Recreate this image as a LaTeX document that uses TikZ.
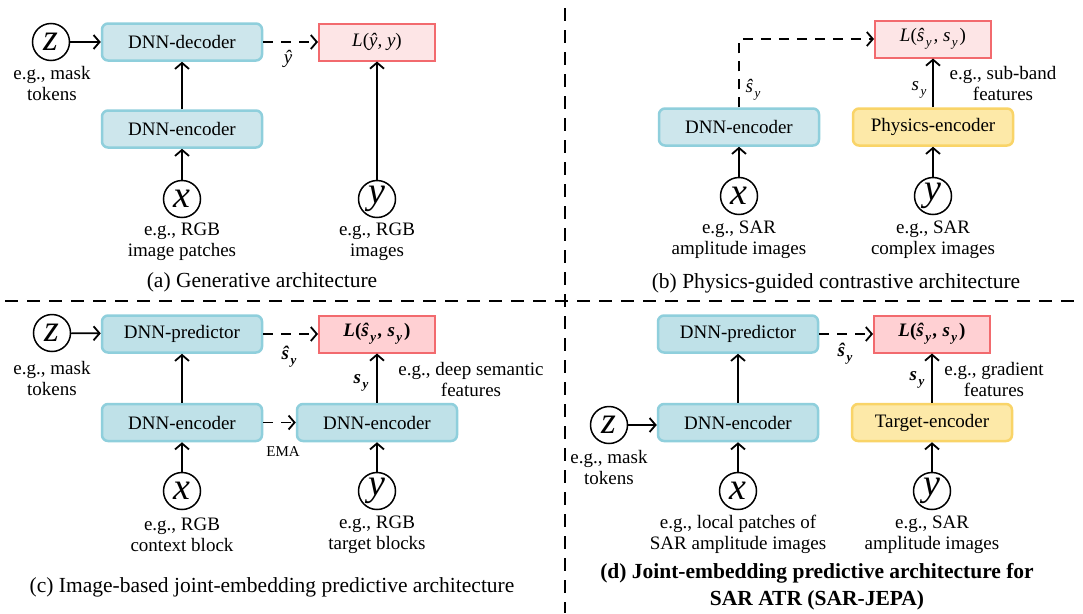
\documentclass[tikz,border=0pt]{standalone}
\usepackage{fontspec}
\setmainfont{Liberation Serif}
\usetikzlibrary{arrows.meta}
\definecolor{bluefill}{HTML}{CDE6EC}
\definecolor{bluefillb}{HTML}{BFE1E8}
\definecolor{bluebd}{HTML}{8FCFDC}
\definecolor{redfill}{HTML}{FDE5E6}
\definecolor{redfillb}{HTML}{FFD0D3}
\definecolor{redbd}{HTML}{F26A6E}
\definecolor{yelfill}{HTML}{FDE9A8}
\definecolor{yelbd}{HTML}{F9D468}
\newcommand\subs[1]{\kern1.5pt\raisebox{-0.55ex}{\fontsize{13}{13}\selectfont\itshape #1}\kern2pt}
\begin{document}
\begin{tikzpicture}[x=1pt,y=-1pt,
  bbox/.style={draw=bluebd, fill=bluefill, line width=2.5pt, rounded corners=6pt,
    minimum width=160pt, minimum height=37pt, inner sep=0pt, font=\fontsize{19}{21}\selectfont},
  bboxb/.style={bbox, fill=bluefillb},
  ybox/.style={bbox, draw=yelbd, fill=yelfill},
  lbox/.style={draw=redbd, fill=redfill, line width=2pt, minimum width=116pt,
    minimum height=37pt, inner sep=0pt, font=\fontsize{19}{21}\selectfont},
  lboxb/.style={lbox, fill=redfillb},
  var/.style={circle, draw, line width=1.5pt, minimum size=37pt, inner sep=0pt,
    font=\fontsize{38}{38}\selectfont\itshape},
  lbl/.style={align=center, inner sep=0pt, font=\fontsize{19}{21}\selectfont},
  capt/.style={align=center, inner sep=0pt, font=\fontsize{21.5}{27}\selectfont},
  mlbl/.style={inner sep=0pt, font=\fontsize{19}{21}\selectfont\itshape},
  arr/.style={-{Straight Barb[length=6pt,width=14pt]}, line width=1.8pt},
  darr/.style={arr, dash pattern=on 10pt off 8pt},
  sep/.style={line width=1.6pt, dash pattern=on 13pt off 9pt}]
\useasboundingbox (0,0) rectangle (1083,613);
\fill[white] (0,0) rectangle (1083,613);

% separators
\coordinate (h1) at (5,301);
\coordinate (h2) at (1080,301);
\coordinate (v1) at (565,8);
\coordinate (v2) at (565,613);
\draw[sep] (h1) -- (h2);
\draw[sep] (v1) -- (v2);

% ---------- (a) ----------
\node[bbox] (deca) at (182,42) {DNN-decoder};
\node[bbox] (enca) at (182,129) {DNN-encoder};
\node[lbox] (La) at (377,42) {{\itshape L}(\itshape ŷ, y\upshape)};
\node[var] (za) at (51,42) {z};
\node[var] (xa) at (182,199) {x};
\node[var] (ya) at (377,199) {y};
\node[lbl] (zta) at (52,83.5) {e.g., mask\\tokens};
\node[lbl] (xta) at (182,241.5) {e.g., RGB\\image patches};
\node[lbl] (yta) at (377,241.5) {e.g., RGB\\images};
\node[mlbl] (yha) at (288,59) {ŷ};
\node[capt] (capa) at (262,282) {(a) Generative architecture};
\draw[arr] (za) -- (deca);
\draw[arr] (enca) -- (deca);
\draw[arr] (xa) -- (enca);
\draw[arr] (ya) -- (La);
\draw[darr] (deca) -- (La);

% ---------- (b) ----------
\node[bbox] (encb) at (739,127) {DNN-encoder};
\node[ybox] (phyb) at (933,127) {Physics-encoder};
\node[lbox] (Lb) at (933,39) {{\itshape L}(\itshape ŝ\subs{y}, s\subs{y}\upshape)};
\node[var] (xb) at (739,196) {x};
\node[var] (yb) at (933,196) {y};
\node[lbl] (xtb) at (739,239.5) {e.g., SAR\\amplitude images};
\node[lbl] (ytb) at (933,239.5) {e.g., SAR\\complex images};
\node[lbl] (ftb) at (1003,83.5) {e.g., sub-band\\features};
\node[mlbl] (shb) at (754,90) {ŝ\subs{y}};
\node[mlbl] (sb) at (920,90) {s\subs{y}};
\node[capt] (capb) at (836,283) {(b) Physics-guided contrastive architecture};
\draw[arr] (xb) -- (encb);
\draw[arr] (yb) -- (phyb);
\draw[arr] (phyb) -- (Lb);
\draw[darr] (encb.north) |- (Lb.west);

% ---------- (c) ----------
\node[bboxb] (predc) at (182,334) {DNN-predictor};
\node[bboxb] (encc) at (182,422.5) {DNN-encoder};
\node[bboxb] (tencc) at (377,422.5) {DNN-encoder};
\node[lboxb] (Lc) at (377,334) {\bfseries{\itshape L}(\itshape ŝ\subs{\bfseries y}, s\subs{\bfseries y}\upshape)};
\node[var] (zc) at (52,333) {z};
\node[var] (xc) at (182,491) {x};
\node[var] (yc) at (377,491) {y};
\node[lbl] (ztc) at (52,378) {e.g., mask\\tokens};
\node[lbl] (xtc) at (182,534.5) {e.g., RGB\\context block};
\node[lbl] (ytc) at (377,534.5) {e.g., RGB\\target blocks};
\node[lbl] (ftc) at (471,379) {e.g., deep semantic\\features};
\node[mlbl,font=\fontsize{19}{21}\selectfont\bfseries\itshape] (shc) at (290,357) {ŝ\subs{\bfseries y}};
\node[mlbl,font=\fontsize{19}{21}\selectfont\bfseries\itshape] (sc) at (362,383) {s\subs{\bfseries y}};
\node[inner sep=0pt, font=\fontsize{15}{15}\selectfont] (ema) at (283,452) {EMA};
\node[capt] (capc) at (272,587) {(c) Image-based joint-embedding predictive architecture};
\draw[arr] (zc) -- (predc);
\draw[arr] (encc) -- (predc);
\draw[arr] (xc) -- (encc);
\draw[arr] (yc) -- (tencc);
\draw[arr] (tencc) -- (Lc);
\draw[darr] (predc) -- (Lc);
\draw[darr] (encc) -- (tencc);

% ---------- (d) ----------
\node[bboxb] (predd) at (738,334) {DNN-predictor};
\node[bboxb] (encd) at (738,422.5) {DNN-encoder};
\node[ybox] (tgtd) at (932,422.5) {Target-encoder};
\node[lboxb] (Ld) at (932,334) {\bfseries{\itshape L}(\itshape ŝ\subs{\bfseries y}, s\subs{\bfseries y}\upshape)};
\node[var] (zd) at (609,425) {z};
\node[var] (xd) at (738,491) {x};
\node[var] (yd) at (932,491) {y};
\node[lbl] (ztd) at (609,467.5) {e.g., mask\\tokens};
\node[lbl] (xtd) at (738,534.5) {e.g., local patches of\\SAR amplitude images};
\node[lbl] (ytd) at (932,534.5) {e.g., SAR\\amplitude images};
\node[lbl] (ftd) at (994,379.5) {e.g., gradient\\features};
\node[mlbl,font=\fontsize{19}{21}\selectfont\bfseries\itshape] (shd) at (846,354) {ŝ\subs{\bfseries y}};
\node[mlbl,font=\fontsize{19}{21}\selectfont\bfseries\itshape] (sd) at (918,380) {s\subs{\bfseries y}};
\node[capt,font=\fontsize{21.5}{27}\selectfont\bfseries] (capd) at (817,586.5) {(d) Joint-embedding predictive architecture for\\SAR ATR (SAR-JEPA)};
\draw[arr] (zd) -- (zd -| encd.west);
\draw[arr] (encd) -- (predd);
\draw[arr] (xd) -- (encd);
\draw[arr] (yd) -- (tgtd);
\draw[arr] (tgtd) -- (Ld);
\draw[darr] (predd) -- (Ld);
\end{tikzpicture}
\end{document}
